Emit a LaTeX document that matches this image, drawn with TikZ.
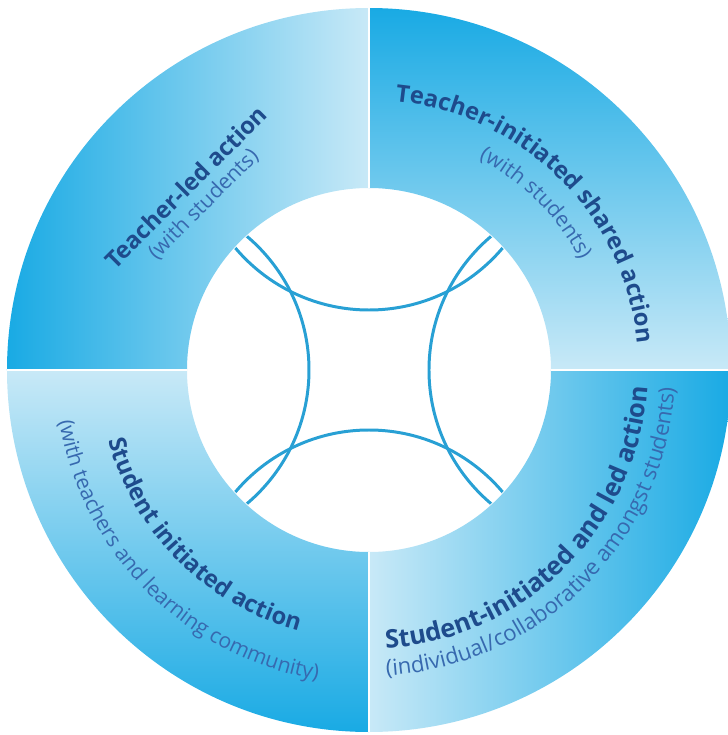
\documentclass[tikz,border=0pt]{standalone}
\usepackage{fontspec}
\setmainfont{Open Sans}
\usetikzlibrary{decorations.text}

\definecolor{ringdark}{RGB}{25,170,228}
\definecolor{ringlight}{RGB}{200,233,247}
\definecolor{titleblue}{RGB}{30,75,140}
\definecolor{subblue}{RGB}{55,105,175}
\definecolor{arcblue}{RGB}{40,160,212}

\newcommand\titlefont{\fontsize{13.5}{16}\selectfont\bfseries}
\newcommand\titlefontwide{\fontsize{14.5}{17}\selectfont\bfseries}
\newcommand\subfont{\fontsize{12}{14}\selectfont}
\newcommand\subfontwide{\fontsize{12.6}{15}\selectfont}

\tikzset{
  titletext/.style={decorate, decoration={text along path, text color=titleblue,
      text align=center, text={|\titlefont|#1}}},
  titletextwide/.style={decorate, decoration={text along path, text color=titleblue,
      text align=center, text={|\titlefontwide|#1}}},
  subtext/.style={decorate, decoration={text along path, text color=subblue,
      text align=center, text={|\subfont|#1}}},
  subtextwide/.style={decorate, decoration={text along path, text color=subblue,
      text align=center, text={|\subfontwide|#1}}},
  arcline/.style={draw=arcblue, line width=1.7pt},
}

\begin{document}
\begin{tikzpicture}[x=0.02cm, y=0.02cm]
  \useasboundingbox (-369,-365) rectangle (359,370);

  % 左上の扇形(左が濃い)
  \shade[left color=ringdark, right color=ringlight]
    (180:362) arc[start angle=180, end angle=90, radius=362]
    -- (90:182) arc[start angle=90, end angle=180, radius=182] -- cycle;
  % 右上の扇形(上が濃い)
  \shade[top color=ringdark, bottom color=ringlight]
    (90:362) arc[start angle=90, end angle=0, radius=362]
    -- (0:182) arc[start angle=0, end angle=90, radius=182] -- cycle;
  % 右下の扇形(右が濃い)
  \shade[left color=ringlight, right color=ringdark]
    (0:362) arc[start angle=0, end angle=-90, radius=362]
    -- (-90:182) arc[start angle=-90, end angle=0, radius=182] -- cycle;
  % 左下の扇形(下が濃い)
  \shade[top color=ringlight, bottom color=ringdark]
    (-90:362) arc[start angle=-90, end angle=-180, radius=362]
    -- (180:182) arc[start angle=180, end angle=270, radius=182] -- cycle;

  % 扇形の境目
  \draw[white, line width=0.6pt] (0,182) -- (0,362) (0,-182) -- (0,-362)
    (182,0) -- (362,0) (-182,0) -- (-362,0);

  % 内側の4つの円弧
  \begin{scope}
    \clip (0,0) circle[radius=181];
    \draw[arcline] (0,235) circle[radius=175];
    \draw[arcline] (0,-235) circle[radius=175];
    \draw[arcline] (235,0) circle[radius=175];
    \draw[arcline] (-235,0) circle[radius=175];
  \end{scope}

  % 左上の文字
  \node[rotate=45, text=titleblue, font=\titlefont] (tl) at (135:259) {Teacher-led action};
  \node[rotate=45, text=subblue, font=\subfont] (tlsub) at (135:234) {(with students)};

  % 右上の文字
  \path[titletext={Teacher-initiated shared action}]
    (95:270) arc[start angle=95, end angle=-5, radius=270];
  \path[subtext={(with students)}]
    (85:238) arc[start angle=85, end angle=5, radius=238];

  % 右下の文字
  \path[titletextwide={Student-initiated and led action}]
    (-100:279) arc[start angle=-100, end angle=10, radius=279];
  \path[subtextwide={(individual/collaborative amongst students)}]
    (-105:306) arc[start angle=-105, end angle=15, radius=306];

  % 左下の文字
  \path[titletext={Student initiated action}]
    (175:270) arc[start angle=175, end angle=275, radius=270];
  \path[subtext={(with teachers and learning community)}]
    (170:314) arc[start angle=170, end angle=280, radius=314];
\end{tikzpicture}
\end{document}
